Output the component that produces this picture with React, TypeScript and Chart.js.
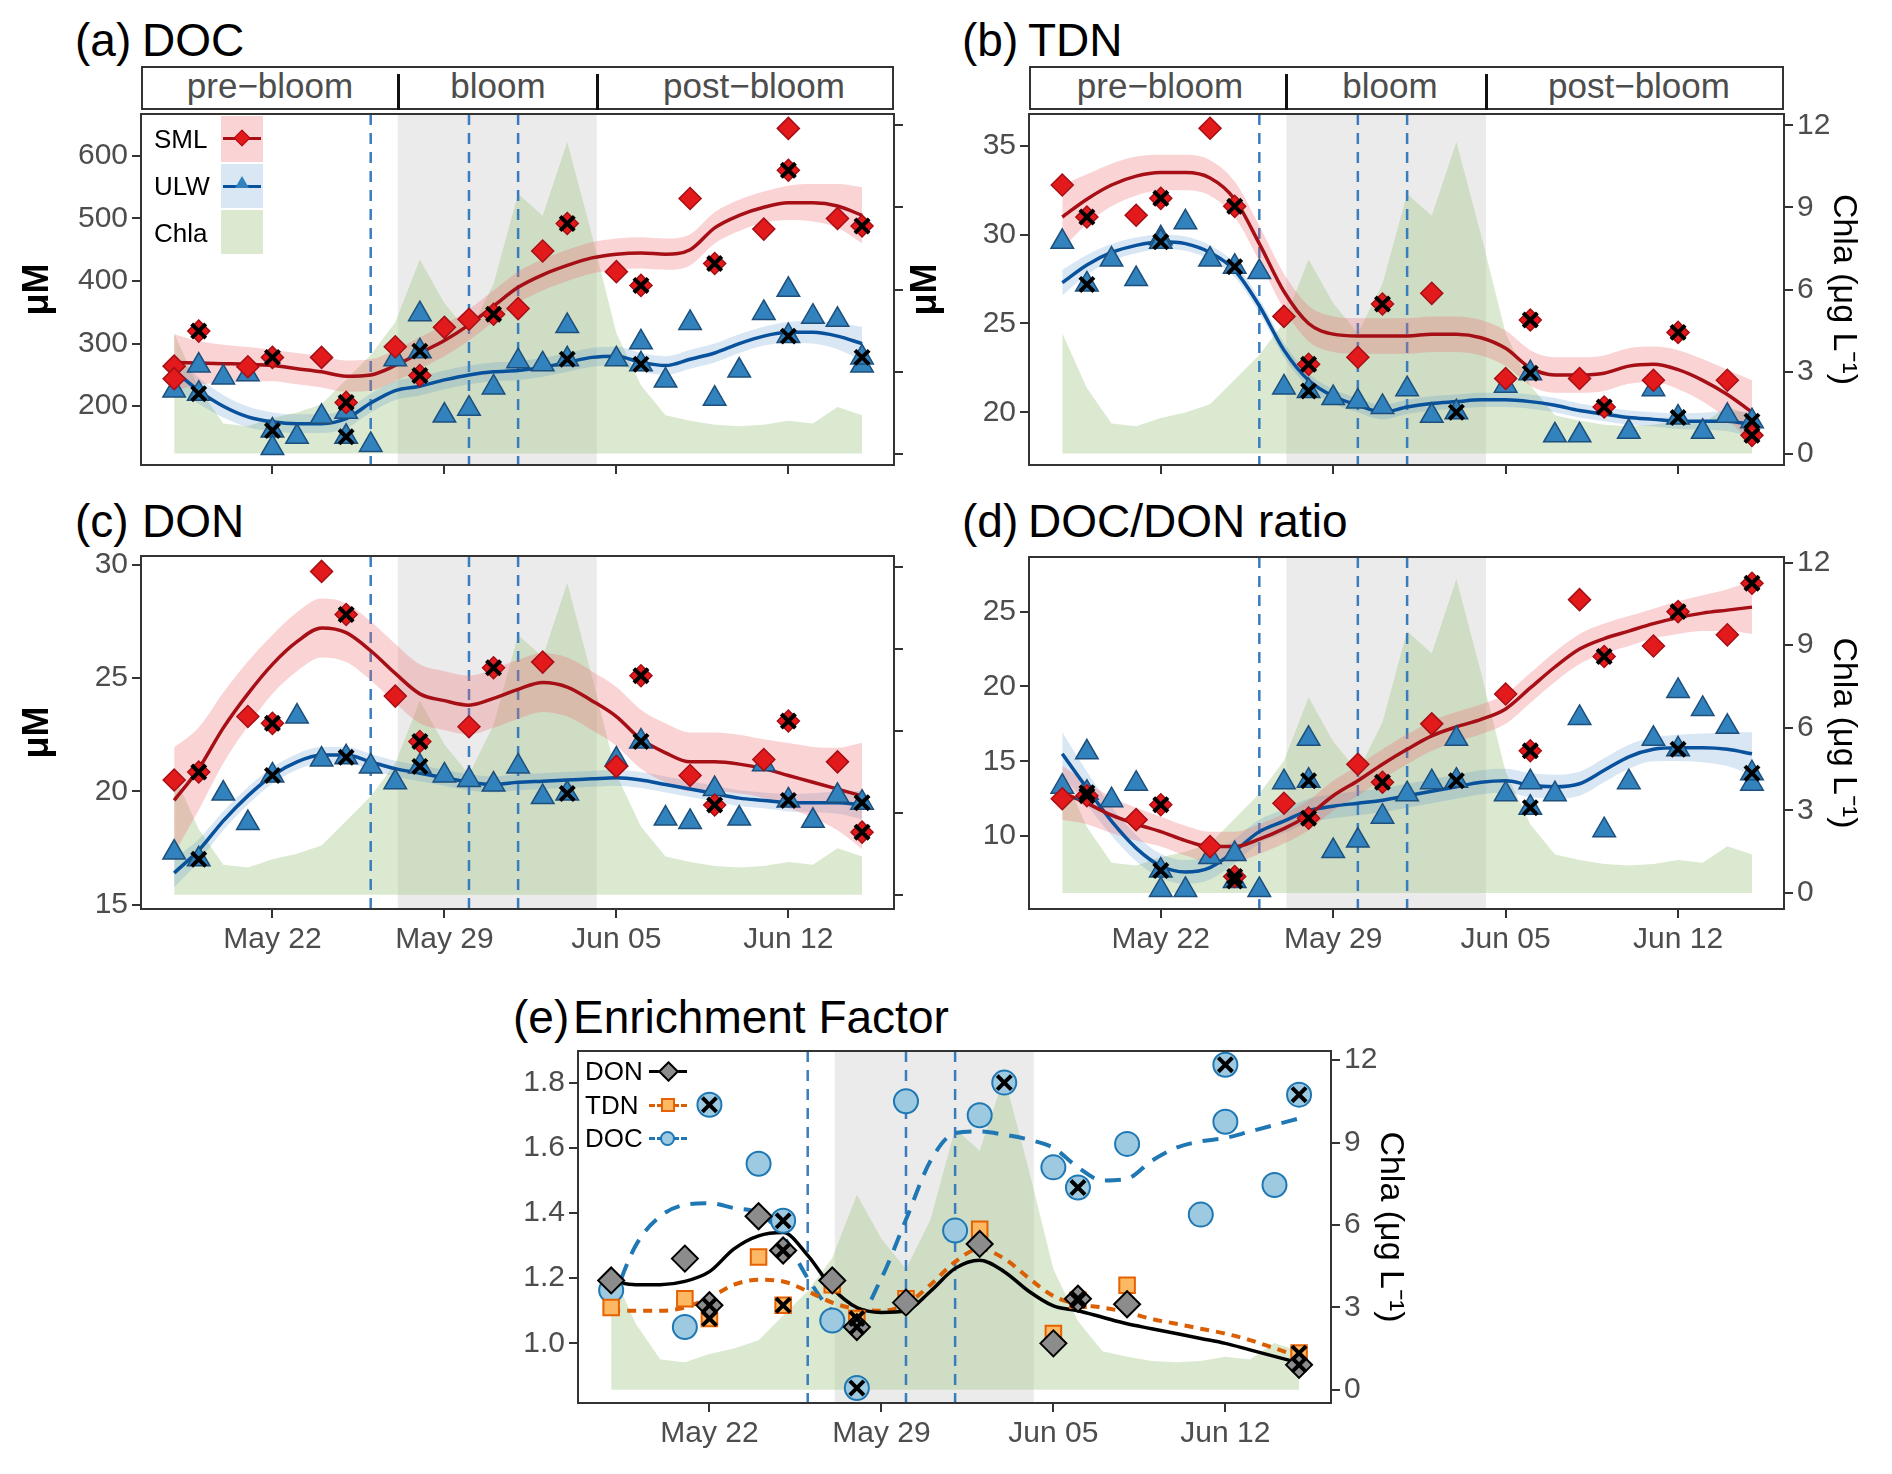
import React, { useEffect, useRef } from "react";
import { Chart, registerables } from "chart.js";
Chart.register(...registerables);

// ---------- data ----------
const DAYS = [18,19,20,21,22,23,24,25,26,27,28,29,30,31,32,33,34,35,36,37,38,39,40,41,42,43,44,45,46];
const CHLA = [4.4,2.4,1.1,1.0,1.3,1.5,1.8,2.7,3.6,4.8,7.1,5.5,4.4,6.2,9.5,8.7,11.4,8.0,4.4,2.5,1.4,1.2,1.05,1.0,1.05,1.2,1.1,1.7,1.4];
const BLOOM = [27.1, 35.2];
const SAMPLING = [26, 30, 32];
const X_TICKS = [22, 29, 36, 43];
const X_LABELS = ["May 22", "May 29", "Jun 05", "Jun 12"];
const CHLA_TICKS = [0, 3, 6, 9, 12];
const SE_SHAPE = [1.8,1.4,1.2,1.1,1,1,1,1,1,1,1,1,1,1,1,1,1,1,1,1,1,1,1,1,1,1.1,1.2,1.4,1.8];

// (a) DOC
const docSmlDay = [18,18,19,21,22,24,25,27,28,29,30,31,32,33,34,36,37,39,40,42,43,43,45,46];
const docSmlVal = [264,244,320,263,278,278,206,295,249,326,339,347,356,448,492,415,393,532,428,483,644,577,500,488];
const docSmlX = [0,0,1,0,1,0,1,0,1,0,0,1,0,0,1,0,1,0,1,0,0,1,0,1];
const docUlwDay = [18,19,19,20,21,22,22,23,24,25,25,26,27,28,28,29,30,31,32,33,34,34,36,37,37,38,39,40,41,42,43,43,44,45,46,46];
const docUlwVal = [225,265,220,246,251,161,133,151,183,191,151,138,275,347,288,185,196,230,272,267,328,275,275,302,267,241,333,212,257,349,386,312,343,338,265,278];
const docUlwX = [0,0,1,0,0,1,0,0,0,0,1,0,0,0,1,0,0,0,0,0,0,1,0,0,1,0,0,0,0,0,0,1,0,0,0,1];
const docSmlFit = [270,269,268,267,265,260,255,248,250,265,285,305,330,360,390,410,425,437,443,445,443,450,485,505,518,525,525,520,505];
const docUlwFit = [257,225,200,183,175,172,172,180,205,225,232,242,250,255,257,262,270,278,280,270,265,275,285,300,312,318,318,312,300];

// (b) TDN
const tdnSmlDay = [18,19,21,22,24,25,27,28,30,31,33,36,37,39,40,42,43,45,46];
const tdnSmlVal = [32.8,31.0,31.1,32.05,36.0,31.6,25.4,22.7,23.1,26.1,26.7,21.9,25.2,21.9,20.3,21.8,24.5,21.8,18.7];
const tdnSmlX = [0,1,0,1,0,1,0,1,0,1,0,0,1,0,1,0,1,0,1];
const tdnUlwDay = [18,19,20,21,22,22,23,24,25,26,27,28,29,30,31,32,33,34,36,37,38,39,41,42,43,44,45,46];
const tdnUlwVal = [29.6,27.2,28.6,27.5,29.8,29.6,30.7,28.6,28.2,27.9,21.4,21.2,20.8,20.6,20.3,21.3,19.8,20.0,21.5,22.2,18.7,18.7,18.9,21.3,19.7,18.9,19.8,19.5];
const tdnUlwX = [0,1,0,0,0,1,0,0,1,0,0,1,0,0,0,0,0,1,0,1,0,0,0,0,1,0,0,1];
const tdnSmlFit = [31.0,32.0,32.8,33.3,33.5,33.5,33.2,32.0,29.5,26.8,25.0,24.4,24.3,24.3,24.3,24.4,24.4,24.2,23.6,22.5,22.1,22.1,22.2,22.6,22.7,22.4,21.8,21.0,20.0];
const tdnUlwFit = [27.3,28.3,29.0,29.4,29.6,29.5,29.0,28.0,26.0,23.5,21.8,20.9,20.4,20.0,20.3,20.5,20.6,20.7,20.7,20.6,20.4,20.1,19.9,19.7,19.6,19.5,19.5,19.5,19.3];

// (c) DON
const donSmlDay = [18,19,21,22,24,25,27,28,30,31,33,36,37,39,40,42,43,45,46];
const donSmlVal = [20.5,20.85,23.3,23.0,29.7,27.8,24.2,22.2,22.85,25.45,25.7,21.1,25.1,20.7,19.4,21.4,23.1,21.3,18.2];
const donSmlX = [0,1,0,1,0,1,0,1,0,1,0,0,1,0,1,0,1,0,1];
const donUlwDay = [18,19,20,21,22,23,24,25,26,27,28,29,30,31,32,33,34,36,37,38,39,40,41,42,43,44,45,46];
const donUlwVal = [17.3,17.0,19.9,18.6,20.7,23.3,21.4,21.5,21.1,20.4,21.1,20.7,20.5,20.3,21.1,19.75,19.9,21.4,22.2,18.8,18.65,20.1,18.8,21.2,19.6,18.7,19.8,19.5];
const donUlwX = [0,1,0,0,1,0,0,1,0,0,1,0,0,0,0,0,1,0,1,0,0,0,0,0,1,0,0,1];
const donSmlFit = [19.6,21.0,22.8,24.3,25.6,26.6,27.2,27.0,26.2,25.2,24.3,24.0,23.8,24.1,24.5,24.8,24.6,24.0,23.3,22.3,21.7,21.3,21.3,21.2,21.0,20.7,20.4,20.1,19.8];
const donUlwFit = [16.4,17.4,18.7,19.8,20.7,21.3,21.6,21.6,21.3,21.0,20.8,20.6,20.4,20.3,20.4,20.45,20.5,20.55,20.6,20.5,20.3,20.1,19.9,19.7,19.6,19.5,19.5,19.5,19.4];

// (d) DOC/DON ratio
const ratSmlDay = [18,19,21,22,24,25,27,28,30,31,33,36,37,39,40,42,43,45,46];
const ratSmlVal = [12.5,12.7,11.1,12.1,9.3,7.3,12.2,11.2,14.8,13.6,17.5,19.5,15.7,25.8,22.0,22.7,25.0,23.45,26.9];
const ratSmlX = [0,1,0,1,0,1,0,1,0,1,0,0,1,0,1,0,1,0,1];
const ratUlwDay = [18,19,19,20,21,22,22,23,24,25,25,26,27,28,28,29,30,31,32,33,34,34,36,37,37,38,39,40,41,42,43,43,44,45,46,46];
const ratUlwVal = [13.3,15.6,12.9,12.4,13.5,6.4,7.7,6.4,8.6,8.8,7.0,6.4,13.6,16.5,13.7,9.0,9.7,11.3,12.8,13.6,16.5,13.7,12.8,13.6,11.9,12.8,17.9,10.4,13.6,16.5,19.7,15.8,18.5,17.3,13.5,14.2];
const ratUlwX = [0,0,1,0,0,0,1,0,0,0,1,0,0,0,1,0,0,0,0,0,0,1,0,0,1,0,0,0,0,0,0,1,0,0,0,1];
const ratSmlFit = [12.9,12.2,11.4,10.8,10.3,9.7,9.3,9.3,9.8,10.5,11.4,12.7,13.7,14.8,15.8,16.7,17.3,17.8,18.5,19.9,21.3,22.5,23.2,23.7,24.2,24.6,24.9,25.1,25.3];
const ratUlwFit = [15.5,13.2,11.0,9.2,8.0,7.6,7.9,9.0,10.3,11.0,11.7,12.0,12.2,12.4,12.7,13.0,13.3,13.6,13.7,13.4,13.3,13.5,14.4,15.3,15.8,15.9,15.9,15.8,15.5];

// (e) Enrichment factor
const efDonDay = [18,21,22,24,25,27,28,30,33,36,37,39,46];
const efDonVal = [1.193,1.26,1.117,1.39,1.285,1.193,1.05,1.125,1.305,1.0,1.137,1.12,0.934];
const efDonX = [0,0,1,0,1,0,1,0,0,0,1,0,1];
const efTdnDay = [18,21,22,24,25,27,28,30,33,36,37,39,46];
const efTdnVal = [1.11,1.137,1.076,1.265,1.117,1.18,1.076,1.137,1.35,1.03,1.132,1.178,0.97];
const efTdnX = [0,0,1,0,1,0,1,0,0,0,1,0,1];
const efDocDay = [18,21,22,24,25,27,28,30,32,33,34,36,37,39,42,43,43,45,46];
const efDocVal = [1.163,1.05,1.732,1.551,1.376,1.07,0.863,1.743,1.346,1.70,1.80,1.54,1.478,1.612,1.395,1.855,1.68,1.486,1.763];
const efDocX = [0,0,1,0,1,0,1,0,0,0,1,0,1,0,0,1,0,0,1];
const efDonFit = [1.19,1.18,1.18,1.19,1.22,1.29,1.33,1.34,1.27,1.17,1.11,1.095,1.10,1.16,1.23,1.255,1.22,1.16,1.115,1.10,1.08,1.06,1.045,1.03,1.015,1.0,0.98,0.96,0.94];
const efTdnFit = [1.10,1.10,1.10,1.11,1.14,1.18,1.195,1.19,1.16,1.125,1.105,1.10,1.12,1.18,1.25,1.29,1.26,1.20,1.145,1.12,1.11,1.095,1.075,1.06,1.045,1.03,1.01,0.985,0.96];
const efDocFit = [1.12,1.30,1.39,1.425,1.43,1.415,1.40,1.33,1.20,1.10,1.08,1.20,1.38,1.56,1.645,1.65,1.64,1.625,1.60,1.54,1.50,1.505,1.56,1.60,1.62,1.63,1.65,1.67,1.69];

// ---------- helpers ----------
const XMIN = 16.65, XMAX = 47.3;
const FONT = "'Liberation Sans', Arial, sans-serif";
const LM = 125, RM = 82, TM = 20, BM = 72;
const SML_C = "#a50f15", SML_F = "#e31a1c", ULW_C = "#08519c", ULW_F = "#3182bd";

const pts = (d: number[], v: number[]) => d.map((x, i) => ({ x, y: v[i] }));
const ptsX = (d: number[], v: number[], f: number[]) => d.map((x, i) => ({ x, y: v[i] })).filter((_, i) => f[i]);
const fitPts = (v: number[]) => DAYS.map((x, i) => ({ x, y: v[i] }));

function chlaDs() {
  return { data: fitPts(CHLA), yAxisID: "y2", showLine: true, fill: "origin", pointRadius: 0, borderWidth: 0,
    backgroundColor: "rgba(163,200,135,0.4)", borderColor: "rgba(0,0,0,0)", tension: 0 };
}
function crossDs(data: any[]) {
  return { data, pointStyle: "crossRot", pointRadius: 10, borderColor: "#000", borderWidth: 4, showLine: false };
}
function pairDatasets(smlD, smlV, smlX, smlFit, smlSe, ulwD, ulwV, ulwX, ulwFit, ulwSe) {
  const ds: any[] = [];
  ds.push(crossDs([...ptsX(smlD, smlV, smlX), ...ptsX(ulwD, ulwV, ulwX)]));
  ds.push({ data: pts(smlD, smlV), pointStyle: "rectRot", pointRadius: 11, backgroundColor: SML_F, borderColor: SML_C, borderWidth: 1.5, showLine: false });
  ds.push({ data: pts(ulwD, ulwV), pointStyle: "triangle", pointRadius: 13, backgroundColor: ULW_F, borderColor: "#1d4f7c", borderWidth: 1.5, showLine: false });
  ds.push({ data: fitPts(smlFit), showLine: true, borderColor: SML_C, borderWidth: 3.5, pointRadius: 0, cubicInterpolationMode: "monotone", fill: false });
  ds.push({ data: fitPts(ulwFit), showLine: true, borderColor: ULW_C, borderWidth: 3.5, pointRadius: 0, cubicInterpolationMode: "monotone", fill: false });
  const base = ds.length;
  ds.push({ data: fitPts(smlFit.map((v, i) => v + smlSe * SE_SHAPE[i])), showLine: true, borderWidth: 0, pointRadius: 0, cubicInterpolationMode: "monotone", fill: { target: base + 1 }, backgroundColor: "rgba(238,110,115,0.3)" });
  ds.push({ data: fitPts(smlFit.map((v, i) => v - smlSe * SE_SHAPE[i])), showLine: true, borderWidth: 0, pointRadius: 0, cubicInterpolationMode: "monotone", fill: false });
  ds.push({ data: fitPts(ulwFit.map((v, i) => v + ulwSe * SE_SHAPE[i])), showLine: true, borderWidth: 0, pointRadius: 0, cubicInterpolationMode: "monotone", fill: { target: base + 3 }, backgroundColor: "rgba(80,140,200,0.22)" });
  ds.push({ data: fitPts(ulwFit.map((v, i) => v - ulwSe * SE_SHAPE[i])), showLine: true, borderWidth: 0, pointRadius: 0, cubicInterpolationMode: "monotone", fill: false });
  ds.push(chlaDs());
  return ds;
}
function efDatasets() {
  const ds: any[] = [];
  ds.push(crossDs([...ptsX(efDonDay, efDonVal, efDonX), ...ptsX(efTdnDay, efTdnVal, efTdnX), ...ptsX(efDocDay, efDocVal, efDocX)]));
  ds.push({ data: pts(efDonDay, efDonVal), pointStyle: "rectRot", pointRadius: 13, backgroundColor: "#8c8c8c", borderColor: "#000", borderWidth: 2, showLine: false });
  ds.push({ data: pts(efTdnDay, efTdnVal), pointStyle: "rect", pointRadius: 11, backgroundColor: "#fdb863", borderColor: "#e66101", borderWidth: 2, showLine: false });
  ds.push({ data: pts(efDocDay, efDocVal), pointStyle: "circle", pointRadius: 12, backgroundColor: "#9ecae1", borderColor: "#1f78b4", borderWidth: 2, showLine: false });
  ds.push({ data: fitPts(efDonFit), showLine: true, borderColor: "#000", borderWidth: 3.5, pointRadius: 0, cubicInterpolationMode: "monotone" });
  ds.push({ data: fitPts(efTdnFit), showLine: true, borderColor: "#d95f02", borderWidth: 4, borderDash: [9, 7], pointRadius: 0, cubicInterpolationMode: "monotone" });
  ds.push({ data: fitPts(efDocFit), showLine: true, borderColor: "#1f78b4", borderWidth: 4, borderDash: [16, 11], pointRadius: 0, cubicInterpolationMode: "monotone" });
  ds.push(chlaDs());
  return ds;
}

const decor = {
  id: "decor",
  beforeDatasetsDraw(chart: any) {
    const { ctx, chartArea: a, scales: { x } } = chart;
    const x0 = x.getPixelForValue(BLOOM[0]), x1 = x.getPixelForValue(BLOOM[1]);
    ctx.save(); ctx.fillStyle = "#ebebeb"; ctx.fillRect(x0, a.top, x1 - x0, a.bottom - a.top); ctx.restore();
  },
  afterDatasetDraw(chart: any, args: any) {
    if (args.index !== chart.data.datasets.length - 1) return;
    const { ctx, chartArea: a, scales: { x } } = chart;
    ctx.save(); ctx.strokeStyle = "#3a7dbf"; ctx.lineWidth = 2.5; ctx.setLineDash([11, 8]);
    SAMPLING.forEach((d) => { const px = x.getPixelForValue(d); ctx.beginPath(); ctx.moveTo(px, a.top); ctx.lineTo(px, a.bottom); ctx.stroke(); });
    ctx.restore();
  },
  afterDraw(chart: any) {
    const { ctx, chartArea: a } = chart;
    ctx.save(); ctx.strokeStyle = "#333"; ctx.lineWidth = 2; ctx.strokeRect(a.left, a.top, a.right - a.left, a.bottom - a.top); ctx.restore();
  },
};

type PanelProps = { L: number; T: number; R: number; B: number; ymin: number; ymax: number; yticks: number[]; y2min: number; y2max: number;
  xLabels: boolean; y2Labels: boolean; yTitle: boolean; dec?: number; datasets: () => any[] };

function Panel(p: PanelProps) {
  const ref = useRef<HTMLCanvasElement>(null);
  const w = p.R - p.L + LM + RM, h = p.B - p.T + TM + BM;
  useEffect(() => {
    const tickFont = { family: FONT, size: 30 };
    const grid = { drawOnChartArea: false, drawTicks: true, tickLength: 9, color: "#333", lineWidth: 2 };
    const chart = new Chart(ref.current!, {
      type: "scatter",
      data: { datasets: p.datasets() },
      plugins: [decor],
      options: {
        animation: false, responsive: false, devicePixelRatio: 1,
        layout: { padding: { top: TM, left: 0, right: 0, bottom: 0 } },
        plugins: { legend: { display: false }, tooltip: { enabled: false } },
        scales: {
          x: { type: "linear", min: XMIN, max: XMAX, grid, border: { display: false },
            afterBuildTicks: (s: any) => { s.ticks = X_TICKS.map((v) => ({ value: v })); },
            afterFit: (s: any) => { s.height = BM; },
            ticks: { display: p.xLabels, font: tickFont, color: "#4d4d4d", padding: 4,
              callback: (v: any) => X_LABELS[X_TICKS.indexOf(Number(v))] ?? "" } },
          y: { type: "linear", position: "left", min: p.ymin, max: p.ymax, grid, border: { display: false },
            afterBuildTicks: (s: any) => { s.ticks = p.yticks.map((v) => ({ value: v })); },
            afterFit: (s: any) => { s.width = LM; },
            ticks: { font: tickFont, color: "#4d4d4d", padding: 4, callback: (v: any) => p.dec ? Number(v).toFixed(p.dec) : String(v) },
            title: { display: p.yTitle, text: "μM", font: { family: FONT, size: 36, weight: "bold" }, color: "#000", padding: 0 } },
          y2: { type: "linear", position: "right", min: p.y2min, max: p.y2max, grid, border: { display: false },
            afterBuildTicks: (s: any) => { s.ticks = CHLA_TICKS.map((v) => ({ value: v })); },
            afterFit: (s: any) => { s.width = RM; },
            ticks: { display: p.y2Labels, font: tickFont, color: "#4d4d4d", padding: 4 },
            title: { display: p.y2Labels, text: "Chla (μg L⁻¹)", font: { family: FONT, size: 34 }, color: "#000", padding: 2 } },
        },
      } as any,
    });
    return () => chart.destroy();
  }, []);
  return <canvas ref={ref} width={w} height={h} style={{ position: "absolute", left: p.L - LM, top: p.T - TM, width: w, height: h }} />;
}

const dayPx = (L: number, R: number, d: number) => L + ((d - XMIN) / (XMAX - XMIN)) * (R - L);

function Strip({ L, R, top, labels }: { L: number; R: number; top: number; labels: number[] }) {
  const names = ["pre−bloom", "bloom", "post−bloom"];
  return (
    <div style={{ position: "absolute", left: L, top, width: R - L, height: 44, border: "2px solid #333", boxSizing: "border-box", background: "#fff" }}>
      {names.map((n, i) => (
        <div key={n} style={{ position: "absolute", left: labels[i] - L - 150, width: 300, top: -2, textAlign: "center", fontSize: 35, lineHeight: "40px", color: "#4d4d4d", fontFamily: FONT }}>{n}</div>
      ))}
      {BLOOM.map((d) => (
        <div key={d} style={{ position: "absolute", left: dayPx(L, R, d) - L - 3, top: 6, width: 3, height: 36, background: "#111" }} />
      ))}
    </div>
  );
}

function Title({ x1, x2, y, tag, text }: { x1: number; x2: number; y: number; tag: string; text: string }) {
  const st: any = { position: "absolute", top: y - 27, fontSize: 46, lineHeight: "54px", fontFamily: FONT, color: "#000", whiteSpace: "nowrap" };
  return (<>
    <div style={{ ...st, left: x1 }}>{tag}</div>
    <div style={{ ...st, left: x2 }}>{text}</div>
  </>);
}

function LegendA() {
  const txt: any = { position: "absolute", left: 154, fontSize: 26, fontFamily: FONT, color: "#000", lineHeight: "30px" };
  return (<div>
    <div style={{ position: "absolute", left: 221, top: 116, width: 42, height: 46, background: "rgba(238,110,115,0.3)" }} />
    <div style={{ position: "absolute", left: 221, top: 164, width: 42, height: 44, background: "rgba(80,140,200,0.22)" }} />
    <div style={{ position: "absolute", left: 221, top: 210, width: 42, height: 44, background: "rgba(163,200,135,0.4)" }} />
    <div style={{ position: "absolute", left: 223, top: 137, width: 38, height: 3, background: SML_C }} />
    <div style={{ position: "absolute", left: 236, top: 132, width: 10, height: 10, background: SML_F, border: `1px solid ${SML_C}`, transform: "rotate(45deg)" }} />
    <div style={{ position: "absolute", left: 223, top: 185, width: 38, height: 3, background: ULW_C }} />
    <div style={{ position: "absolute", left: 235, top: 176, width: 0, height: 0, borderLeft: "7px solid transparent", borderRight: "7px solid transparent", borderBottom: `12px solid ${ULW_F}` }} />
    <div style={{ ...txt, top: 124 }}>SML</div>
    <div style={{ ...txt, top: 171 }}>ULW</div>
    <div style={{ ...txt, top: 218 }}>Chla</div>
  </div>);
}

function LegendE() {
  const txt: any = { position: "absolute", left: 585, fontSize: 26, fontFamily: FONT, color: "#000", lineHeight: "30px" };
  return (<div>
    <div style={{ ...txt, top: 1056 }}>DON</div>
    <div style={{ ...txt, top: 1090 }}>TDN</div>
    <div style={{ ...txt, top: 1123 }}>DOC</div>
    <div style={{ position: "absolute", left: 649, top: 1070, width: 38, height: 3, background: "#000" }} />
    <div style={{ position: "absolute", left: 661, top: 1064, width: 11, height: 11, background: "#8c8c8c", border: "2px solid #000", transform: "rotate(45deg)" }} />
    <div style={{ position: "absolute", left: 649, top: 1104, width: 38, height: 0, borderTop: "3px dashed #d95f02" }} />
    <div style={{ position: "absolute", left: 661, top: 1098, width: 10, height: 10, background: "#fdb863", border: "2px solid #e66101" }} />
    <div style={{ position: "absolute", left: 649, top: 1137, width: 38, height: 0, borderTop: "3px dashed #1f78b4" }} />
    <div style={{ position: "absolute", left: 660, top: 1131, width: 11, height: 11, borderRadius: "50%", background: "#9ecae1", border: "2px solid #1f78b4" }} />
  </div>);
}

export default function App() {
  return (
    <div style={{ position: "absolute", left: 0, top: 0, width: 1892, height: 1474, background: "#fff", overflow: "hidden" }}>
      <Title x1={75} x2={142} y={40} tag="(a)" text="DOC" />
      <Title x1={962} x2={1028} y={40} tag="(b)" text="TDN" />
      <Title x1={75} x2={142} y={521} tag="(c)" text="DON" />
      <Title x1={962} x2={1028} y={521} tag="(d)" text="DOC/DON ratio" />
      <Title x1={513} x2={573} y={1017} tag="(e)" text="Enrichment Factor" />
      <Strip L={141} R={894} top={66} labels={[268, 496, 752]} />
      <Strip L={1029} R={1784} top={66} labels={[1158, 1388, 1637]} />
      <Panel L={141} T={112} R={894} B={465} ymin={106} ymax={667} yticks={[200, 300, 400, 500, 600]} y2min={-0.42} y2max={12.42}
        xLabels={false} y2Labels={false} yTitle={true}
        datasets={() => pairDatasets(docSmlDay, docSmlVal, docSmlX, docSmlFit, 25, docUlwDay, docUlwVal, docUlwX, docUlwFit, 15)} />
      <Panel L={1029} T={112} R={1784} B={465} ymin={17.03} ymax={36.8} yticks={[20, 25, 30, 35]} y2min={-0.42} y2max={12.42}
        xLabels={false} y2Labels={true} yTitle={true}
        datasets={() => pairDatasets(tdnSmlDay, tdnSmlVal, tdnSmlX, tdnSmlFit, 1.0, tdnUlwDay, tdnUlwVal, tdnUlwX, tdnUlwFit, 0.4)} />
      <Panel L={141} T={554} R={894} B={909} ymin={14.81} ymax={30.38} yticks={[15, 20, 25, 30]} y2min={-0.52} y2max={12.39}
        xLabels={true} y2Labels={false} yTitle={true}
        datasets={() => pairDatasets(donSmlDay, donSmlVal, donSmlX, donSmlFit, 1.3, donUlwDay, donUlwVal, donUlwX, donUlwFit, 0.35)} />
      <Panel L={1029} T={555} R={1784} B={909} ymin={5.13} ymax={28.65} yticks={[10, 15, 20, 25]} y2min={-0.58} y2max={12.2}
        xLabels={true} y2Labels={true} yTitle={false}
        datasets={() => pairDatasets(ratSmlDay, ratSmlVal, ratSmlX, ratSmlFit, 1.0, ratUlwDay, ratUlwVal, ratUlwX, ratUlwFit, 0.8)} />
      <Panel L={578} T={1049} R={1331} B={1403} ymin={0.817} ymax={1.897} yticks={[1.0, 1.2, 1.4, 1.6, 1.8]} y2min={-0.48} y2max={12.33}
        xLabels={true} y2Labels={true} yTitle={false} dec={1} datasets={efDatasets} />
      <LegendA />
      <LegendE />
    </div>
  );
}
